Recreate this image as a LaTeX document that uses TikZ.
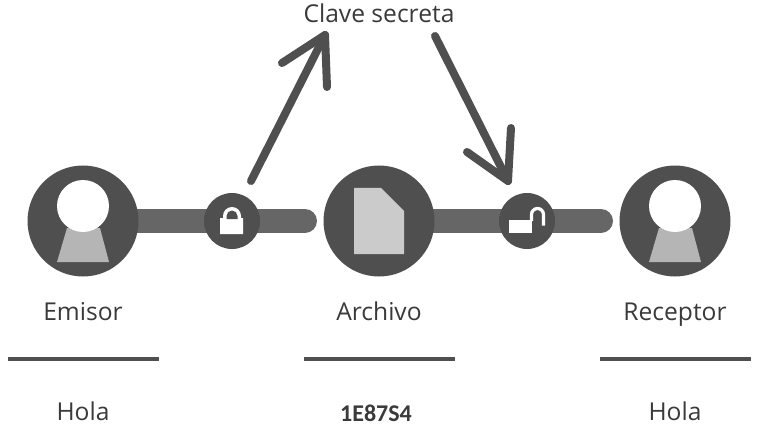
\documentclass[tikz,border=0pt]{standalone}
\usepackage{fontspec}
\setmainfont{Open Sans}
\newfontfamily\calib{Carlito}
\definecolor{dk}{HTML}{4F4F4F}
\definecolor{barc}{HTML}{666666}
\definecolor{lt}{HTML}{B5B5B5}
\definecolor{docc}{HTML}{CBCBCB}
\definecolor{txt}{HTML}{3A3A3A}
\tikzset{
  bigdisc/.style={circle,fill=dk,draw=none,minimum size=111pt,inner sep=0pt},
  smalldisc/.style={circle,fill=dk,draw=none,minimum size=56pt,inner sep=0pt},
  barline/.style={barc,line width=24pt,line cap=round},
  arrowline/.style={dk,line width=8pt,line cap=round,line join=round},
  ruleline/.style={dk,line width=3.5pt},
  label/.style={text=txt,font=\fontsize{24.6}{28}\selectfont,inner sep=0pt,anchor=base},
}
\begin{document}
\begin{tikzpicture}[x=1pt,y=-1pt]
\useasboundingbox (0,0) rectangle (758,441);
% bars
\coordinate (b1s) at (83,221);
\coordinate (b1e) at (305,221);
\coordinate (b2s) at (379,221);
\coordinate (b2e) at (601,221);
\draw[barline] (b1s) -- (b1e);
\draw[barline] (b2s) -- (b2e);
% discs
\node[bigdisc] (emisor) at (83,221) {};
\node[bigdisc] (archivo) at (379,221) {};
\node[bigdisc] (receptor) at (675,221) {};
\node[smalldisc] (lock) at (232,221) {};
\node[smalldisc] (unlock) at (527,221) {};
% persons
\fill[lt] (67,228) -- (100,228) -- (109,262) -- (57,262) -- cycle;
\fill[white] (83,206) circle (26);
\fill[lt] (659,228) -- (692,228) -- (701,262) -- (649,262) -- cycle;
\fill[white] (675,206) circle (26);
% document
\fill[docc] (354,188) -- (381,188) -- (404,211) -- (404,254) -- (354,254) -- cycle;
% closed lock
\fill[white] (220,218) -- (223,218) -- (223,216) arc[start angle=180,end angle=360,radius=9] -- (241,218) -- (243,218) -- (243,234) -- (220,234) -- cycle;
\fill[dk] (226.5,219) -- (226.5,216) arc[start angle=180,end angle=360,radius=5.5] -- (237.5,219) -- cycle;
% open lock
\fill[white] (509,220) rectangle (532,233);
\draw[white,line width=3.2pt] (531.5,221) -- (531.5,214.5) arc[start angle=180,end angle=360,radius=6] -- (543.5,225.5);
% arrows
\coordinate (a1s) at (251,181);
\coordinate (a1t) at (325,35);
\coordinate (a1l) at (282,63);
\coordinate (a1r) at (327,87);
\coordinate (a2s) at (435,36);
\coordinate (a2t) at (508,181);
\coordinate (a2l) at (467,152);
\coordinate (a2r) at (511,128);
\draw[arrowline] (a1s) -- (a1t);
\draw[arrowline] (a1l) -- (a1t) -- (a1r);
\draw[arrowline] (a2s) -- (a2t);
\draw[arrowline] (a2l) -- (a2t) -- (a2r);
% rules
\coordinate (r1a) at (8,359); \coordinate (r1b) at (159,359);
\coordinate (r2a) at (304,359); \coordinate (r2b) at (455,359);
\coordinate (r3a) at (600,359); \coordinate (r3b) at (751,359);
\draw[ruleline] (r1a) -- (r1b);
\draw[ruleline] (r2a) -- (r2b);
\draw[ruleline] (r3a) -- (r3b);
% text
\node[label] (clave) at (379,23) {Clave secreta};
\node[label] (temisor) at (83,320) {Emisor};
\node[label] (tarchivo) at (379,320) {Archivo};
\node[label] (treceptor) at (675,320) {Receptor};
\node[label] (thola1) at (83,420) {Hola};
\node[label] (thola2) at (675,420) {Hola};
\node[text=txt,inner sep=0pt,anchor=base,font=\calib\bfseries\fontsize{24}{26}\selectfont] (code) at (376,421) {1E87S4};
\end{tikzpicture}
\end{document}
